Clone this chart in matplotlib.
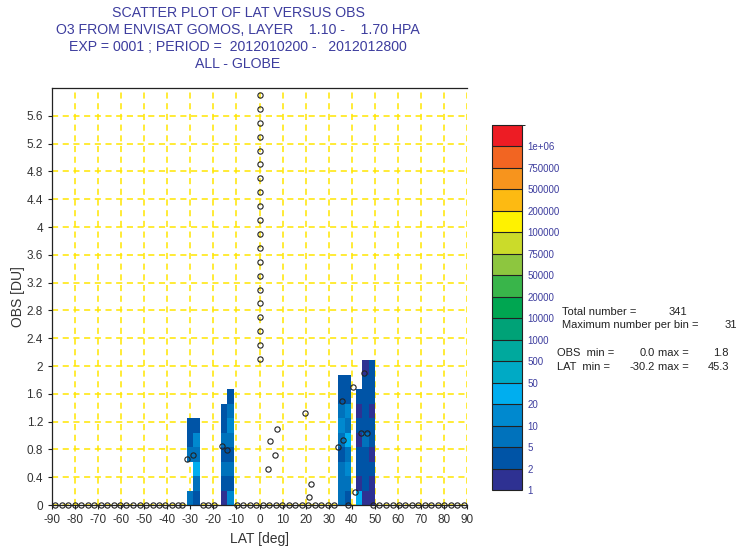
import numpy as np
import matplotlib
matplotlib.use("Agg")
import matplotlib.pyplot as plt
from matplotlib.colors import ListedColormap, BoundaryNorm

# colour scale of the 2D histogram (counts per bin)
levels = [1, 2, 5, 10, 20, 50, 500, 1000, 10000, 20000, 50000, 75000,
          100000, 200000, 500000, 750000, 1000000, 2000000]
level_labels = ["1", "2", "5", "10", "20", "50", "500", "1000", "10000", "20000",
                "50000", "75000", "100000", "200000", "500000", "750000", "1e+06"]
colors = ["#2E3192", "#0054A6", "#0072BC", "#0089CF", "#00AEEF", "#00AAC5",
          "#00A99D", "#00A277", "#00A651", "#39B54A", "#8DC63F", "#CBDB2A",
          "#FFF200", "#FDBA12", "#F7941D", "#F26522", "#ED1C24"]

# histogram cells: one column per lat bin, counts per OBS bin from 0 upward
obs_bin = 0.208333
col_left = [-31.6, -28.8, -16.9, -14.0, 34.0, 36.9, 41.7, 44.5, 47.3]
col_width = [2.8, 2.8, 2.9, 2.9, 2.9, 2.8, 2.8, 2.8, 2.8]
col_counts = [
    [6, 0, 0, 6, 3, 3],
    [3, 6, 20, 6, 12, 3],
    [1, 3, 6, 3, 6, 3, 3],
    [12, 3, 6, 3, 6, 12, 6, 3],
    [6, 6, 6, 3, 6, 12, 6, 3, 3],
    [3, 6, 12, 6, 20, 6, 12, 3, 3],
    [20, 1, 3, 3, 1, 3, 1, 3],
    [1, 3, 3, 3, 6, 3, 3, 3, 3, 1],
    [1, 1, 3, 1, 3, 3, 1, 3, 3, 3],
]

# scatter points (open circles)
zero_lat = [-88.6, -85.8, -83.0, -80.2, -77.3, -74.5, -71.7, -68.9, -66.1, -63.3,
            -60.5, -57.7, -54.8, -52.0, -49.2, -46.4, -43.6, -40.8, -38.0, -35.2,
            -33.7, -24.6, -22.2, -19.6, -9.8, -7.0, -4.2, -1.4, 1.4, 4.2, 7.0,
            9.8, 12.7, 15.5, 18.3, 21.1, 23.9, 26.7, 29.5, 32.3, 38.4, 49.2,
            52.0, 54.8, 57.7, 60.5, 63.3, 66.1, 68.9, 71.7, 74.5, 77.3, 80.2,
            83.0, 85.8, 88.6]
pt_lat = [-31.6, -29.0, -16.4, -14.0, 3.7, 4.5, 7.6, 6.7, 19.7, 22.2, 21.3,
          45.4, 40.4, 35.9, 36.3, 33.9, 43.9, 46.5, 41.4]
pt_obs = [0.66, 0.72, 0.85, 0.79, 0.52, 0.92, 1.1, 0.72, 1.32, 0.3, 0.11,
          1.9, 1.7, 1.5, 0.93, 0.84, 1.03, 1.03, 0.19]
eq_obs = [2.1, 2.3, 2.5, 2.7, 2.9, 3.1, 3.3, 3.5, 3.7, 3.9,
          4.1, 4.3, 4.5, 4.7, 4.9, 5.1, 5.3, 5.5, 5.7, 5.9]

title_lines = ["SCATTER PLOT OF LAT VERSUS OBS",
               "O3 FROM ENVISAT GOMOS, LAYER    1.10 -    1.70 HPA",
               "EXP = 0001 ; PERIOD =  2012010200 -   2012012800",
               "ALL - GLOBE"]
total_number = 341
max_per_bin = 31
obs_min, obs_max = 0.0, 1.8
lat_min, lat_max = -30.2, 45.3

plt.rcParams['font.family'] = ['Liberation Sans', 'DejaVu Sans']
plt.rcParams['axes.unicode_minus'] = False
TXT = "#333333"
BLUE = "#3d3d9e"

cmap = ListedColormap(colors)
norm = BoundaryNorm(levels, cmap.N)

fig = plt.figure(figsize=(7.38, 5.52), dpi=100)
ax = fig.add_axes([0.0705, 0.0851, 0.5623, 0.7555])

for left, w, counts in zip(col_left, col_width, col_counts):
    for k, c in enumerate(counts):
        if c > 0:
            ax.bar(left, obs_bin, width=w, bottom=k * obs_bin, align='edge',
                   color=cmap(norm(c)), linewidth=0, zorder=2)

mk = dict(linestyle='none', marker='o', mfc='none', mec='#222222', ms=3.8,
          mew=0.8, zorder=4)
ax.plot(zero_lat, [0] * len(zero_lat), clip_on=False, **mk)
ax.plot(pt_lat, pt_obs, **mk)
ax.plot([0] * len(eq_obs), eq_obs, **mk)

ax.set_xlim(-90, 90)
ax.set_ylim(0, 6)
ax.set_xticks(np.arange(-90, 91, 10))
ax.set_yticks(np.arange(0, 5.7, 0.4))
ax.set_yticklabels(["0", "0.4", "0.8", "1.2", "1.6", "2", "2.4", "2.8", "3.2",
                    "3.6", "4", "4.4", "4.8", "5.2", "5.6"])
ax.grid(True, color="#FFE600", linestyle=(0, (4, 3)), linewidth=1.1, zorder=1)
ax.set_axisbelow(True)
ax.tick_params(direction='out', length=3, width=0.8, colors='#222222',
               labelcolor=TXT, labelsize=8.5)
for s in ax.spines.values():
    s.set_color('#222222')
    s.set_linewidth(0.9)
ax.spines['right'].set_visible(False)
ax.set_xlabel("LAT [deg]", fontsize=10, color=TXT, labelpad=4)
ax.set_ylabel("OBS [DU]", fontsize=10, color=TXT, labelpad=1)

for i, line in enumerate(title_lines):
    fig.text(0.3225, 0.977 - i * 0.0308, line, ha='center', va='center',
             fontsize=10.2, color=BLUE)

# colour bar
cax = fig.add_axes([0.6667, 0.1123, 0.0406, 0.6612])
cb = fig.colorbar(plt.cm.ScalarMappable(norm=norm, cmap=cmap), cax=cax,
                  boundaries=levels, spacing='uniform', drawedges=True)
cb.set_ticks(levels[:-1])
cb.set_ticklabels(level_labels)
cb.outline.set_edgecolor('#222222')
cb.outline.set_linewidth(0.8)
cb.dividers.set_color('#222222')
cb.dividers.set_linewidth(0.8)
cax.tick_params(length=0, labelsize=7, labelcolor=BLUE, pad=4)

# summary text
fs = 8
K = '#222222'
def put(x, y, s, ha='left'):
    fig.text(x / 738, 1 - y / 552, s, fontsize=fs, color=K, va='center', ha=ha)

put(562, 312, "Total number =")
put(687, 312, str(total_number), 'right')
put(562, 325, "Maximum number per bin =")
put(737, 325, str(max_per_bin), 'right')
put(557, 353, "OBS  min =")
put(655, 353, "%.1f" % obs_min, 'right')
put(658, 353, "max =")
put(729, 353, "%.1f" % obs_max, 'right')
put(557, 367, "LAT  min =")
put(655, 367, "%.1f" % lat_min, 'right')
put(658, 367, "max =")
put(729, 367, "%.1f" % lat_max, 'right')

fig.savefig("out.png", dpi=100)
